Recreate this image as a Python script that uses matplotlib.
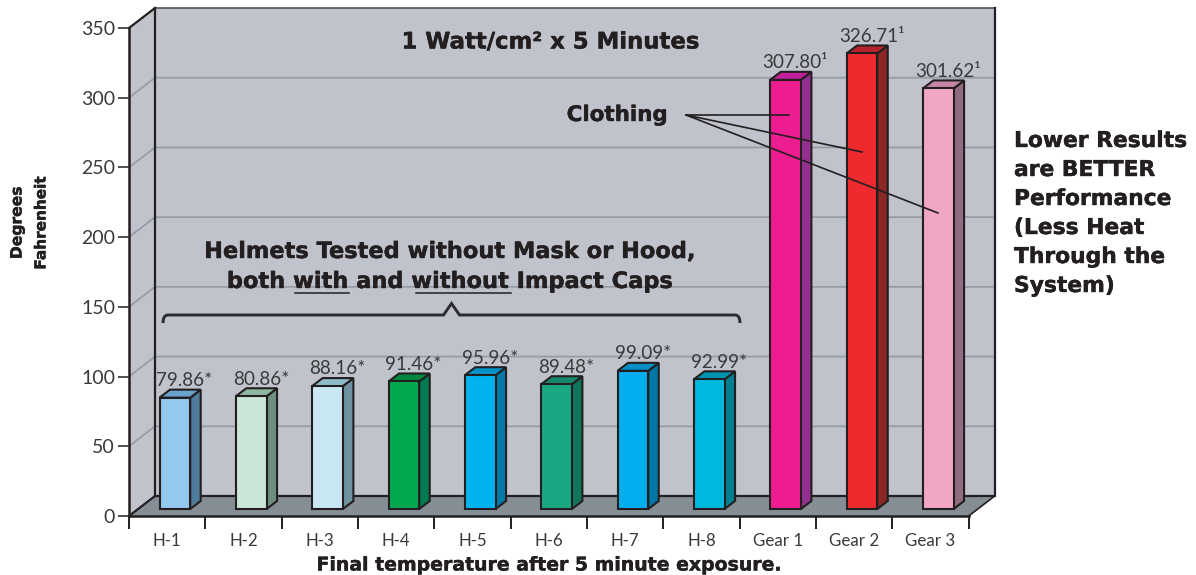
import matplotlib
matplotlib.use("Agg")
import matplotlib.pyplot as plt
import matplotlib.patheffects as pe
from matplotlib.patches import Polygon
from matplotlib.path import Path
from matplotlib.patches import PathPatch

categories = ["H-1", "H-2", "H-3", "H-4", "H-5", "H-6", "H-7", "H-8", "Gear 1", "Gear 2", "Gear 3"]
values = [79.86, 80.86, 88.16, 91.46, 95.96, 89.48, 99.09, 92.99, 307.80, 326.71, 301.62]
value_labels = ["79.86*", "80.86*", "88.16*", "91.46*", "95.96*", "89.48*", "99.09*", "92.99*",
                "307.80¹", "326.71¹", "301.62¹"]
front_colors = ["#93c9ee", "#c9e6d6", "#c9e8f4", "#00a94f", "#00b3ef", "#1ba784", "#00aeef", "#00b7de",
                "#ed1c91", "#ee2a2e", "#f2a6c6"]
side_colors = ["#4f7c9d", "#6e8f80", "#6e929f", "#007a50", "#0078a8", "#13745c", "#0077a6", "#007f93",
               "#93308f", "#8b2724", "#8f6c80"]
top_colors = ["#6aa2cd", "#8fb8a2", "#8fbccb", "#00873f", "#0092c8", "#15896c", "#008fc5", "#0095b4",
              "#c2209a", "#b8242b", "#c485a6"]
y_ticks = [0, 50, 100, 150, 200, 250, 300, 350]

W, H = 1196, 575
DARK = "#231f20"
TEXT = "#3a3a3c"
BOLD = "#231f20"
LIGHT = ["Lato", "DejaVu Sans"]

fig = plt.figure(figsize=(W / 100, H / 100), dpi=100)
ax = fig.add_axes([129 / W, 1 - 516 / H, (968.7 - 129) / W, (516 - 28) / H])
ax.set_xlim(0, 11)
ax.set_ylim(0, 350)
ax.patch.set_visible(False)

# pixel sizes of the fake 3d, expressed in data units
ux = 76.34
uy = 488 / 350
back_x, back_y = 26 / ux, 20 / uy
n = len(categories)

wall = "#c0c3cc"
floor = "#858e95"
grid = "#989ca6"

# walls and floor
ax.add_patch(Polygon([(back_x, back_y), (n + back_x, back_y), (n + back_x, 350 + back_y), (back_x, 350 + back_y)],
                     fc=wall, ec="#55565c", lw=1.2, clip_on=False, zorder=1))
ax.add_patch(Polygon([(0, 0), (back_x, back_y), (back_x, 350 + back_y), (0, 350)],
                     fc=wall, ec="none", clip_on=False, zorder=1))
ax.add_patch(Polygon([(0, 0), (n, 0), (n + back_x, back_y), (back_x, back_y)],
                     fc=floor, ec="none", clip_on=False, zorder=1))
for v in y_ticks[1:-1]:
    ax.plot([0, back_x, n + back_x], [v, v + back_y, v + back_y], color=grid, lw=1.3, clip_on=False, zorder=2)
ax.plot([back_x, back_x], [back_y, 350 + back_y], color=DARK, lw=1.6, clip_on=False, zorder=3)
ax.plot([0, back_x], [350, 350 + back_y], color=DARK, lw=1.6, clip_on=False, zorder=3)
ax.plot([0, back_x], [0, back_y], color=DARK, lw=1.6, clip_on=False, zorder=3)
ax.plot([back_x, n + back_x, n + back_x], [back_y, back_y, 350 + back_y], color=DARK, lw=1.6, clip_on=False, zorder=3)
ax.plot([n, n + back_x], [0, back_y], color=DARK, lw=1.2, clip_on=False, zorder=3)

# bars
bw = 30.7 / ux
shift = 7.7 / ux
base = 7 / uy
dx, dy = 10.5 / ux, 8 / uy
for i, v in enumerate(values):
    left = i + 0.5 + shift - bw / 2
    right = left + bw
    top = base + v
    ax.add_patch(Polygon([(right, base), (right + dx, base + dy), (right + dx, top + dy), (right, top)],
                         fc=side_colors[i], ec=DARK, lw=1.5, clip_on=False, zorder=4, joinstyle="miter"))
    ax.add_patch(Polygon([(left, top), (right, top), (right + dx, top + dy), (left + dx, top + dy)],
                         fc=top_colors[i], ec=DARK, lw=1.5, clip_on=False, zorder=4, joinstyle="miter"))
    ax.bar(left, v, width=bw, bottom=base, align="edge", color=front_colors[i], edgecolor=DARK, lw=1.5,
           zorder=5, clip_on=False)
    ax.text(i + 0.5 + shift + dx / 2 + 4.5 / ux, top + dy + 0.5, value_labels[i], ha="center", va="bottom",
            fontsize=13.6, family=LIGHT, color=TEXT, zorder=6)

# axes
for s in ["top", "right"]:
    ax.spines[s].set_visible(False)
for s in ["left", "bottom"]:
    ax.spines[s].set_linewidth(1.8)
    ax.spines[s].set_color(DARK)
    ax.spines[s].set_zorder(7)
ax.set_yticks(y_ticks)
ax.set_xticks(range(n + 1))
ax.set_xticklabels([])
ax.tick_params(axis="y", length=8, width=1.1, color=DARK, pad=2, labelsize=14, labelcolor=TEXT)
ax.tick_params(axis="x", length=9, width=1.4, color=DARK)
for lab in ax.get_yticklabels():
    lab.set_family(LIGHT)
for i, c in enumerate(categories):
    ax.annotate(c, (i + 0.5, 0), xytext=(0, -24.5 * 72 / 100), textcoords="offset points", ha="center", va="center",
                fontsize=12.2, family=LIGHT, color=TEXT)


# annotation helpers in reference pixels
def fx(px):
    return px / W


def fy(py):
    return 1 - py / H


def label(px, py, s, size, ha="center", rot=0):
    # thin stroke thickens the bold, the reference face is heavier than DejaVu Bold
    fig.text(fx(px), fy(py), s, fontsize=size, fontweight="bold", color=BOLD, ha=ha, va="center",
             rotation=rot, family="DejaVu Sans", zorder=10,
             path_effects=[pe.withStroke(linewidth=0.3, foreground=BOLD)])


def line(xs, ys, lw=1.2):
    fig.add_artist(plt.Line2D([fx(a) for a in xs], [fy(b) for b in ys], color=DARK, lw=lw, zorder=10))


label(550, 42, "1 Watt/cm² x 5 Minutes", 16.4)
label(617, 115, "Clothing", 15.4)
label(450, 252, "Helmets Tested without Mask or Hood,", 16.2)
label(450, 282, "both with and without Impact Caps", 16.2)
line([295, 349], [293.3, 293.3], 1.1)
line([416, 511], [293.3, 293.3], 1.1)
label(549, 565, "Final temperature after 5 minute exposure.", 13.6)
label(17, 223, "Degrees", 11.2, rot=90)
label(41, 223, "Fahrenheit", 11, rot=90)
for py, s in zip([141, 170, 199, 228, 257, 286],
                 ["Lower Results", "are BETTER", "Performance", "(Less Heat", "Through the", "System)"]):
    label(1014, py, s, 15.7, ha="left")

# leader lines from Clothing
line([686, 789], [115, 115])
line([686, 862], [115, 152])
line([686, 938], [115, 213])

# brace
verts = [(163, 323), (163, 315), (168, 315), (443.5, 315), (451.5, 303.5), (459.5, 315), (735, 315), (740, 315),
         (740, 323)]
verts = [(fx(a), fy(b)) for a, b in verts]
codes = [Path.MOVETO, Path.CURVE3, Path.CURVE3, Path.LINETO, Path.LINETO, Path.LINETO, Path.LINETO, Path.CURVE3,
         Path.CURVE3]
fig.add_artist(PathPatch(Path(verts, codes), fc="none", ec="#2c2c30", lw=2.1, transform=fig.transFigure, zorder=10))

fig.savefig("out.png", dpi=100, facecolor="white")
